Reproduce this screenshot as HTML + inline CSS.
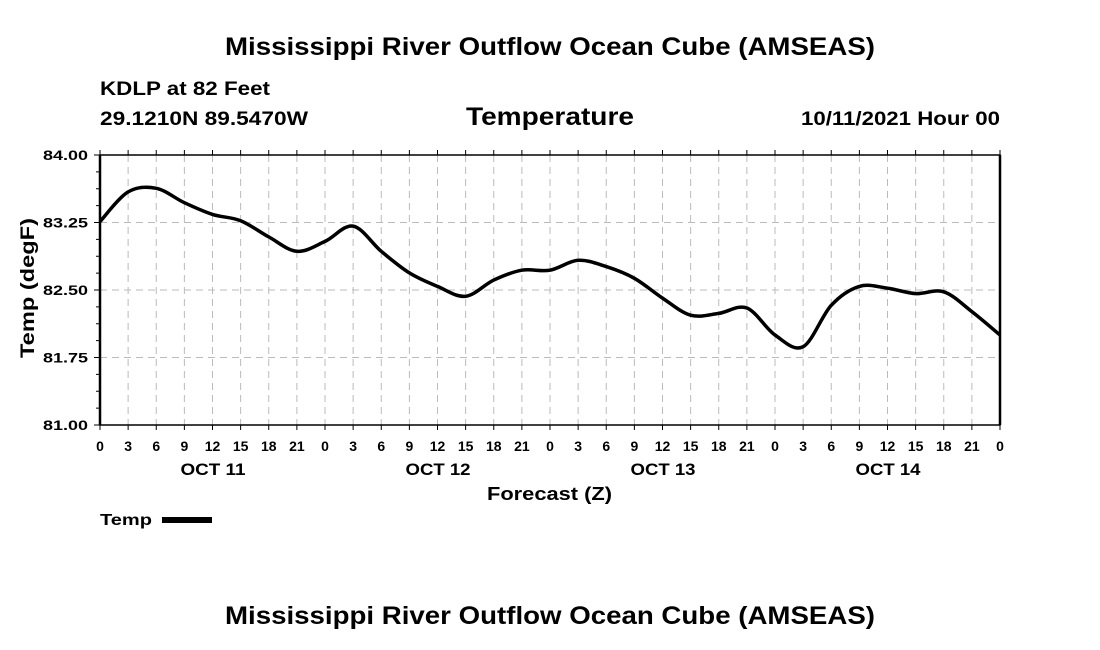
<!DOCTYPE html>
<html><head><meta charset="utf-8"><style>
html,body{margin:0;padding:0;background:#fff;}
svg{display:block;font-family:"Liberation Sans",sans-serif;font-weight:bold;}
</style></head><body>
<svg id="chart" width="1100" height="650" viewBox="0 0 1100 650">
<text x="225" y="55" font-size="25" textLength="650" lengthAdjust="spacingAndGlyphs">Mississippi River Outflow Ocean Cube (AMSEAS)</text>
<text x="100" y="95" font-size="19" textLength="170" lengthAdjust="spacingAndGlyphs">KDLP at 82 Feet</text>
<text x="100" y="125" font-size="19" textLength="208" lengthAdjust="spacingAndGlyphs">29.1210N  89.5470W</text>
<text x="466" y="125" font-size="25" textLength="168" lengthAdjust="spacingAndGlyphs">Temperature</text>
<text x="801" y="125" font-size="19" textLength="199" lengthAdjust="spacingAndGlyphs">10/11/2021 Hour 00</text>
<text x="487" y="500" font-size="18" textLength="125" lengthAdjust="spacingAndGlyphs">Forecast (Z)</text>
<text transform="translate(34,358) rotate(-90)" font-size="19" textLength="140" lengthAdjust="spacingAndGlyphs">Temp (degF)</text>
<text x="100" y="525" font-size="16" textLength="52" lengthAdjust="spacingAndGlyphs">Temp</text>
<rect x="162" y="517" width="50" height="6" fill="#000"/>
<text x="225" y="624" font-size="25" textLength="650" lengthAdjust="spacingAndGlyphs">Mississippi River Outflow Ocean Cube (AMSEAS)</text>
<g id="plot"></g>
</svg>
<script>
const hours = [0,3,6,9,12,15,18,21,24,27,30,33,36,39,42,45,48,51,54,57,60,63,66,69,72,75,78,81,84,87,90,93,96];
const temps = [83.26,83.59,83.63,83.47,83.34,83.27,83.09,82.93,83.04,83.21,82.93,82.69,82.54,82.43,82.61,82.72,82.72,82.83,82.76,82.63,82.41,82.22,82.24,82.30,82.00,81.87,82.33,82.54,82.52,82.46,82.48,82.26,82.00];
const yTicks = [81.00,81.75,82.50,83.25,84.00];
const dayLabels = ["OCT 11","OCT 12","OCT 13","OCT 14"];
const dayCenters = [12,36,60,84];

const X0=100,X1=1000,Y0=425,Y1=155;
const xs = h => X0 + (h/96)*(X1-X0);
const ys = v => Y0 - (v-81)/3*(Y0-Y1);
const NS="http://www.w3.org/2000/svg";
const g=document.getElementById('plot');
function mk(t,a){const e=document.createElementNS(NS,t);for(const k in a)e.setAttribute(k,a[k]);g.appendChild(e);return e;}

for(let h=3;h<96;h+=3){
  const l=mk('line',{x1:xs(h),x2:xs(h),y1:Y1,y2:Y0,stroke:'#bbb','stroke-dasharray':'7,5','stroke-width':1});
  
  
}
yTicks.slice(1,-1).forEach(v=>{
  const l=mk('line',{x1:X0,x2:X1,y1:ys(v),y2:ys(v),stroke:'#bbb','stroke-dasharray':'7,5','stroke-width':1});
  
  
});
const fr=mk('rect',{x:X0,y:Y1,width:X1-X0,height:Y0-Y1,fill:'none',stroke:'#000','stroke-width':1.5});


mk('line',{x1:X0,x2:X0,y1:Y1,y2:Y0,stroke:'#000','stroke-width':2.5});
mk('line',{x1:X1,x2:X1,y1:Y1,y2:Y0,stroke:'#000','stroke-width':2.5});

for(let i=0;i<=16;i++){
  const v=81+i*0.1875;
  const len=(i%4===0)?6:4;
  mk('line',{x1:X0-len,x2:X0,y1:ys(v),y2:ys(v),stroke:'#000','stroke-width':1});
}
yTicks.forEach(v=>{
  const t=mk('text',{x:X0-12,y:ys(v)+5,'text-anchor':'end','font-size':14,textLength:45,lengthAdjust:'spacingAndGlyphs'});
  t.textContent=v.toFixed(2);
  
  
});
hours.forEach(h=>{
  mk('line',{x1:xs(h),x2:xs(h),y1:Y0,y2:Y0+5,stroke:'#000','stroke-width':1});
  mk('line',{x1:xs(h),x2:xs(h),y1:Y1-5,y2:Y1,stroke:'#000','stroke-width':1});
  const t=mk('text',{x:xs(h),y:451,'text-anchor':'middle','font-size':14});
  t.textContent=String(h%24);
  
  
});
dayLabels.forEach((d,i)=>{
  const t=mk('text',{x:xs(dayCenters[i])-32,y:475,'font-size':17,textLength:65,lengthAdjust:'spacingAndGlyphs'});
  t.textContent=d;
  
  
});
const P=hours.map((h,i)=>[xs(h),ys(temps[i])]);
let d='M'+P[0][0]+','+P[0][1];
for(let i=0;i<P.length-1;i++){
  const p0=P[Math.max(0,i-1)],p1=P[i],p2=P[i+1],p3=P[Math.min(P.length-1,i+2)];
  const c1=[p1[0]+(p2[0]-p0[0])/6,p1[1]+(p2[1]-p0[1])/6];
  const c2=[p2[0]-(p3[0]-p1[0])/6,p2[1]-(p3[1]-p1[1])/6];
  d+=` C${c1[0]},${c1[1]} ${c2[0]},${c2[1]} ${p2[0]},${p2[1]}`;
}
const line=mk('path',{d:d,fill:'none',stroke:'#000','stroke-width':3.5,'stroke-linejoin':'round'});


</script>
</body></html>
